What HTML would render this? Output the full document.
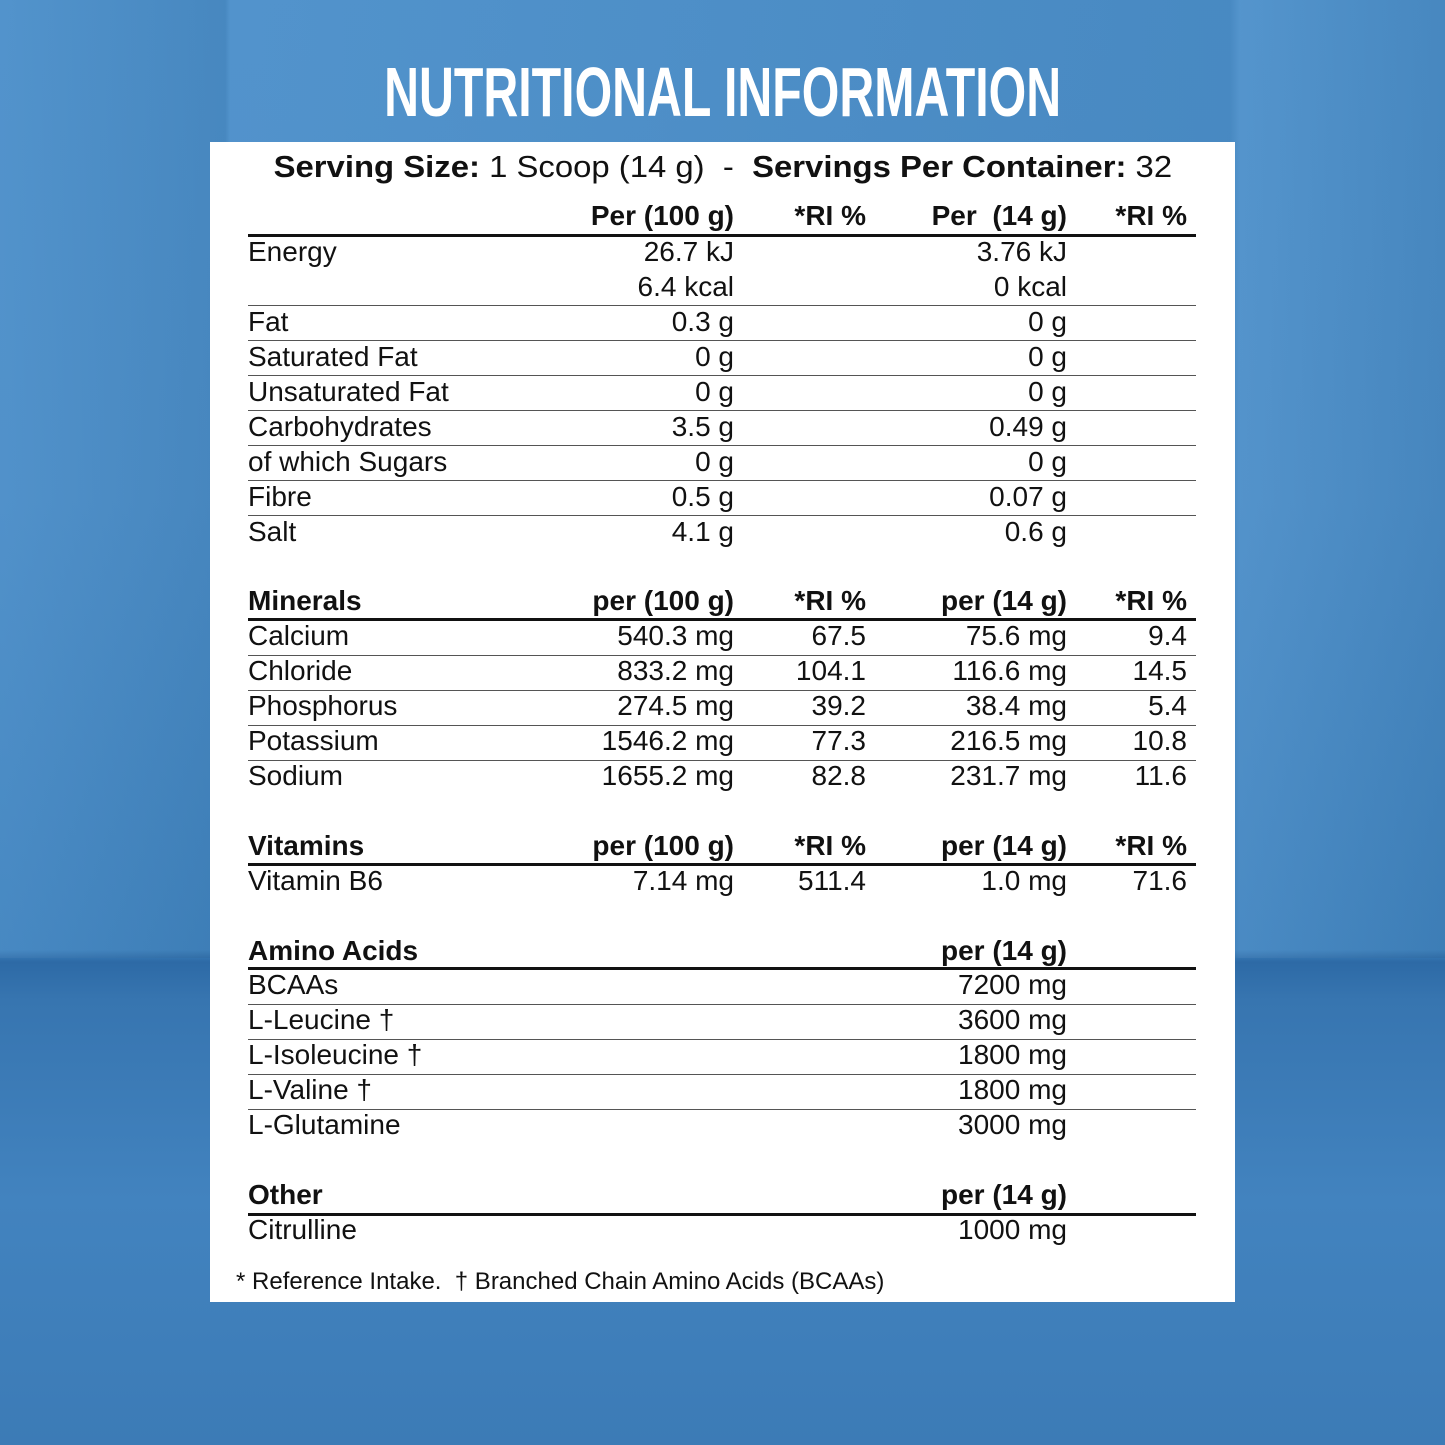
<!DOCTYPE html>
<html><head><meta charset="utf-8"><style>
body{margin:0;width:1445px;height:1445px;overflow:hidden;position:relative;font-family:"Liberation Sans",sans-serif;
background:linear-gradient(180deg,#4b8fca 0px,#4a8dc8 500px,#4084c0 950px,#2d6aa6 962px,#3775b0 1000px,#4283bf 1200px,#3c7bb6 1445px);}
.wall{position:absolute;left:0;top:0;width:1445px;height:958px;background:
linear-gradient(90deg,rgba(255,255,255,.04) 0,rgba(0,0,0,.05) 225px,rgba(255,255,255,.04) 230px,rgba(0,0,0,.04) 1230px,rgba(255,255,255,.05) 1240px,rgba(0,0,0,.05) 1445px);}
.panel{position:absolute;left:210px;top:142px;width:1025px;height:1160px;background:#fff;}
.title{position:absolute;left:0;width:1445px;top:52px;text-align:center;color:#fff;font-weight:bold;font-size:70px;line-height:80px;}
.title span{display:inline-block;transform:scaleX(0.69);transform-origin:center;white-space:nowrap;}
.r{position:absolute;left:0;width:1445px;height:35px;font-size:28px;line-height:35px;color:#111;}
.r span{position:absolute;white-space:nowrap;}
.l{left:248px}
.c1{right:711px}.c2{right:579px}.c3{right:378px}.c4{right:258px}
.b{font-weight:bold}
.ln{position:absolute;left:248px;width:948px;height:1px;background:#555;}
.th{position:absolute;left:248px;width:948px;height:3px;background:#111;}
</style></head><body>
<div class="wall"></div>
<div class="title"><span>NUTRITIONAL INFORMATION</span></div>
<div class="panel"></div>
<div style="position:absolute;left:0;width:1445px;top:147px;text-align:center;font-size:31px;line-height:40px;color:#111;white-space:nowrap"><span style="display:inline-block;transform:scaleX(1.06)"><b>Serving Size:</b> 1 Scoop (14 g)&nbsp; - &nbsp;<b>Servings Per Container:</b> 32</span></div>

<div class="r b" style="top:198px"><span class="c1">Per (100 g)</span><span class="c2">*RI %</span><span class="c3">Per&nbsp; (14 g)</span><span class="c4">*RI %</span></div>
<div class="th" style="top:234px"></div>
<div class="r" style="top:234px"><span class="l">Energy</span><span class="c1">26.7 kJ</span><span class="c3">3.76 kJ</span></div>
<div class="r" style="top:269px"><span class="c1">6.4 kcal</span><span class="c3">0 kcal</span></div>
<div class="ln" style="top:305px"></div>
<div class="r" style="top:304px"><span class="l">Fat</span><span class="c1">0.3 g</span><span class="c3">0 g</span></div>
<div class="ln" style="top:340px"></div>
<div class="r" style="top:339px"><span class="l">Saturated Fat</span><span class="c1">0 g</span><span class="c3">0 g</span></div>
<div class="ln" style="top:375px"></div>
<div class="r" style="top:374px"><span class="l">Unsaturated Fat</span><span class="c1">0 g</span><span class="c3">0 g</span></div>
<div class="ln" style="top:410px"></div>
<div class="r" style="top:409px"><span class="l">Carbohydrates</span><span class="c1">3.5 g</span><span class="c3">0.49 g</span></div>
<div class="ln" style="top:445px"></div>
<div class="r" style="top:444px"><span class="l">of which Sugars</span><span class="c1">0 g</span><span class="c3">0 g</span></div>
<div class="ln" style="top:480px"></div>
<div class="r" style="top:479px"><span class="l">Fibre</span><span class="c1">0.5 g</span><span class="c3">0.07 g</span></div>
<div class="ln" style="top:515px"></div>
<div class="r" style="top:514px"><span class="l">Salt</span><span class="c1">4.1 g</span><span class="c3">0.6 g</span></div>

<div class="r b" style="top:583px"><span class="l">Minerals</span><span class="c1">per (100 g)</span><span class="c2">*RI %</span><span class="c3">per (14 g)</span><span class="c4">*RI %</span></div>
<div class="th" style="top:618px"></div>
<div class="r" style="top:618px"><span class="l">Calcium</span><span class="c1">540.3 mg</span><span class="c2">67.5</span><span class="c3">75.6 mg</span><span class="c4">9.4</span></div>
<div class="ln" style="top:655px"></div>
<div class="r" style="top:653px"><span class="l">Chloride</span><span class="c1">833.2 mg</span><span class="c2">104.1</span><span class="c3">116.6 mg</span><span class="c4">14.5</span></div>
<div class="ln" style="top:690px"></div>
<div class="r" style="top:688px"><span class="l">Phosphorus</span><span class="c1">274.5 mg</span><span class="c2">39.2</span><span class="c3">38.4 mg</span><span class="c4">5.4</span></div>
<div class="ln" style="top:725px"></div>
<div class="r" style="top:723px"><span class="l">Potassium</span><span class="c1">1546.2 mg</span><span class="c2">77.3</span><span class="c3">216.5 mg</span><span class="c4">10.8</span></div>
<div class="ln" style="top:760px"></div>
<div class="r" style="top:758px"><span class="l">Sodium</span><span class="c1">1655.2 mg</span><span class="c2">82.8</span><span class="c3">231.7 mg</span><span class="c4">11.6</span></div>

<div class="r b" style="top:828px"><span class="l">Vitamins</span><span class="c1">per (100 g)</span><span class="c2">*RI %</span><span class="c3">per (14 g)</span><span class="c4">*RI %</span></div>
<div class="th" style="top:863px"></div>
<div class="r" style="top:863px"><span class="l">Vitamin B6</span><span class="c1">7.14 mg</span><span class="c2">511.4</span><span class="c3">1.0 mg</span><span class="c4">71.6</span></div>

<div class="r b" style="top:933px"><span class="l">Amino Acids</span><span class="c3">per (14 g)</span></div>
<div class="th" style="top:967px"></div>
<div class="r" style="top:967px"><span class="l">BCAAs</span><span class="c3">7200 mg</span></div>
<div class="ln" style="top:1004px"></div>
<div class="r" style="top:1002px"><span class="l">L-Leucine †</span><span class="c3">3600 mg</span></div>
<div class="ln" style="top:1039px"></div>
<div class="r" style="top:1037px"><span class="l">L-Isoleucine †</span><span class="c3">1800 mg</span></div>
<div class="ln" style="top:1074px"></div>
<div class="r" style="top:1072px"><span class="l">L-Valine †</span><span class="c3">1800 mg</span></div>
<div class="ln" style="top:1109px"></div>
<div class="r" style="top:1107px"><span class="l">L-Glutamine</span><span class="c3">3000 mg</span></div>

<div class="r b" style="top:1177px"><span class="l">Other</span><span class="c3">per (14 g)</span></div>
<div class="th" style="top:1213px"></div>
<div class="r" style="top:1212px"><span class="l">Citrulline</span><span class="c3">1000 mg</span></div>

<div style="position:absolute;left:236px;top:1267px;font-size:24px;line-height:30px;color:#111;white-space:nowrap">* Reference Intake.&nbsp; † Branched Chain Amino Acids (BCAAs)</div>
</body></html>
